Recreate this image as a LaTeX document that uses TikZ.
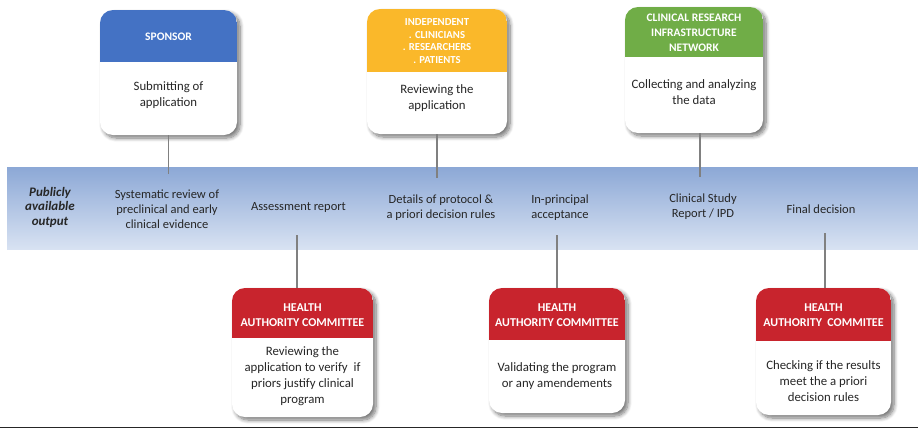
\documentclass[tikz,border=0pt]{standalone}
\usepackage{fontspec}
\setmainfont{Carlito}
\usepackage{tikz}
\usetikzlibrary{shadows.blur}
\definecolor{sponsorblue}{RGB}{68,114,196}
\definecolor{indyellow}{RGB}{250,184,42}
\definecolor{crgreen}{RGB}{112,173,71}
\definecolor{harred}{RGB}{200,36,45}
\definecolor{linkgray}{RGB}{128,128,128}
\definecolor{bandtop}{RGB}{140,168,214}
\definecolor{bandbot}{RGB}{216,226,242}
\tikzstyle{link} = [draw,line width=1.3pt,linkgray,-]
\tikzset{
  stage/.style 2 args = {rectangle, rounded corners=13pt, fill=white, inner sep=0pt,
    blur shadow={shadow xshift=3pt, shadow yshift=-3pt, shadow blur steps=8, shadow blur radius=4pt, shadow opacity=55},
    path picture={\fill[#1, sharp corners] (path picture bounding box.north west)
      rectangle ([yshift=-#2]path picture bounding box.north east);}},% boite avec bandeau
  headtext/.style = {align=center, text=white, font=\bfseries\fontsize{12}{15}\selectfont},
  bodytext/.style = {align=center, text=black!85, font=\fontsize{12.8}{16}\selectfont},
  bandtext/.style = {align=center, text=black!85, font=\fontsize{12.5}{15}\selectfont},
  band/.style = {rectangle, inner sep=0pt, top color=bandtop, bottom color=bandbot,
    minimum width=911pt, minimum height=82pt},
}
\begin{document}
\begin{tikzpicture}[x=1pt,y=-1pt]
                    \node[band] (band) at (462.5,208) {};

                    \node[stage={sponsorblue}{52pt}, minimum width=137pt, minimum height=125pt] (sponsor) at (168.5,72.5) {};
                    \node[stage={indyellow}{63pt}, minimum width=140pt, minimum height=125pt] (indep) at (437,71.5) {};
                    \node[stage={crgreen}{50pt}, minimum width=138pt, minimum height=126pt] (crin) at (694,70) {};
                    \node[stage={harred}{50pt}, minimum width=141pt, minimum height=129pt] (har1) at (302.5,352.5) {};
                    \node[stage={harred}{52pt}, minimum width=136pt, minimum height=125pt] (har2) at (557,350.5) {};
                    \node[stage={harred}{53pt}, minimum width=135pt, minimum height=127pt] (har3) at (823.5,351.5) {};

                    \node[headtext, font=\bfseries\fontsize{11.5}{15}\selectfont] (sponsorh) at (168.5,37) {SPONSOR};
                    \node[headtext, font=\bfseries\fontsize{10.7}{12.7}\selectfont] (indeph) at (437,41) {INDEPENDENT\\. CLINICIANS\\. RESEARCHERS\\. PATIENTS};
                    \node[headtext, font=\bfseries\fontsize{11.5}{15}\selectfont] (crinh) at (694,33) {CLINICAL RESEARCH\\INFRASTRUCTURE\\NETWORK};
                    \node[headtext] (har1h) at (302.5,315) {HEALTH\\AUTHORITY COMMITTEE};
                    \node[headtext] (har2h) at (557,315.5) {HEALTH\\AUTHORITY COMMITTEE};
                    \node[headtext] (har3h) at (823.5,315.5) {HEALTH\\AUTHORITY\ \ COMMITEE};

                    \node[bodytext] (sponsorb) at (168.5,95) {Submitting of\\application};
                    \node[bodytext] (indepb) at (437,98) {Reviewing the\\application};
                    \node[bodytext] (crinb) at (694,92.5) {Collecting and analyzing\\the data};
                    \node[bodytext] (har1b) at (302.5,376.5) {Reviewing the\\application to verify\ \ if\\priors justify clinical\\program};
                    \node[bodytext] (har2b) at (557,376) {Validating the program\\or any amendements};
                    \node[bodytext] (har3b) at (823.5,381) {Checking if the results\\meet the a priori\\decision rules};

                    \node[bandtext, font=\bfseries\itshape\fontsize{13}{14.5}\selectfont] (output) at (50,207) {Publicly\\available\\output};
                    \node[bandtext] (sysrev) at (167,209) {Systematic review of\\preclinical and early\\clinical evidence};
                    \node[bandtext] (assess) at (298.5,207) {Assessment report};
                    \node[bandtext] (protocol) at (441,207.5) {Details of protocol \&\\a priori decision rules};
                    \node[bandtext] (accept) at (560,207.5) {In-principal\\acceptance};
                    \node[bandtext] (csr) at (703,206.5) {Clinical Study\\Report / IPD};
                    \node[bandtext] (final) at (821,209) {Final decision};

                    \path[link, shorten >=-7pt] (sponsor.south) -- (sponsor.south |- band.north);
                    \path[link, shorten >=-11pt] (indep.south) -- (indep.south |- band.north);
                    \path[link, shorten >=-10pt] ([xshift=6pt]crin.south) -- ([xshift=6pt]crin.south |- band.north);
                    \path[link, shorten >=-14pt] ([xshift=-5.5pt]har1.north) -- ([xshift=-5.5pt]har1.north |- band.south);
                    \path[link, shorten >=-14pt] (har2.north) -- (har2.north |- band.south);
                    \path[link, shorten >=-16pt] ([xshift=1.5pt]har3.north) -- ([xshift=1.5pt]har3.north |- band.south);

                    \draw[line width=1.5pt, black!85] (0,427.6) -- (918,427.6);

                    \pgfresetboundingbox
                    \path [use as bounding box] (0,0) rectangle (918,429);
                \end{tikzpicture}
\end{document}
